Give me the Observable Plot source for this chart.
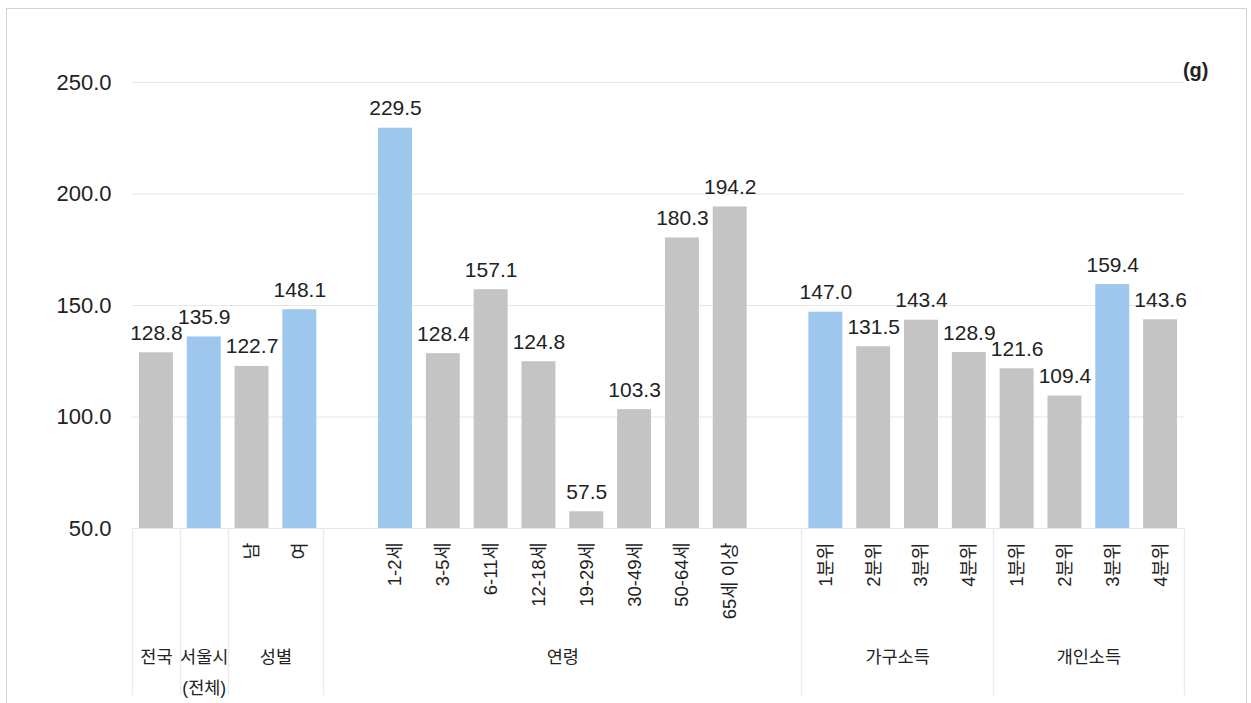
<!DOCTYPE html>
<html lang="ko">
<head>
<meta charset="utf-8">
<script src="https://cdn.jsdelivr.net/npm/d3@7"></script>
<script src="https://cdn.jsdelivr.net/npm/@observablehq/plot@0.6"></script>
<style>
  html, body { margin: 0; padding: 0; background: #fff; }
  #wrap { position: relative; width: 1251px; height: 703px; }
  #border {
    position: absolute; left: 6px; top: 8px; width: 1241px; height: 700px;
    border: 1.5px solid #d4d4d4; box-sizing: border-box; pointer-events: none;
  }
  #chart { position: absolute; left: 0; top: 0; }
</style>
</head>
<body>
<div id="wrap">
  <div id="chart"></div>
  <div id="border"></div>
</div>
<script>
// 1일 평균 섭취량 (g), 구분별
const groups = ["전국", "서울시", "성별", "성별",
  "연령", "연령", "연령", "연령", "연령", "연령", "연령", "연령",
  "가구소득", "가구소득", "가구소득", "가구소득",
  "개인소득", "개인소득", "개인소득", "개인소득"];
const categories = ["", "", "남", "여",
  "1-2세", "3-5세", "6-11세", "12-18세", "19-29세", "30-49세", "50-64세", "65세 이상",
  "1분위", "2분위", "3분위", "4분위",
  "1분위", "2분위", "3분위", "4분위"];
const values = [128.8, 135.9, 122.7, 148.1,
  229.5, 128.4, 157.1, 124.8, 57.5, 103.3, 180.3, 194.2,
  147.0, 131.5, 143.4, 128.9,
  121.6, 109.4, 159.4, 143.6];
const highlighted = [false, true, false, true,
  true, false, false, false, false, false, false, false,
  true, false, false, false,
  false, false, true, false];
const groupLabels = [
  {group: "전국", text: "전국"},
  {group: "서울시", text: "서울시\n(전체)"},
  {group: "성별", text: "성별"},
  {group: "연령", text: "연령"},
  {group: "가구소득", text: "가구소득"},
  {group: "개인소득", text: "개인소득"}
];
const yTicks = [50, 100, 150, 200, 250];
const baseline = 50;
const unit = "(g)";

// One row per bar, with a unique band key
const rows = values.map((v, i) => ({
  key: groups[i] + "|" + categories[i] + "|" + i,
  group: groups[i],
  label: categories[i],
  value: v,
  hi: highlighted[i]
}));

// Band domain with an empty slot after 성별 and after 연령
const domain = [];
rows.forEach((r, i) => {
  domain.push(r.key);
  if (i < rows.length - 1 && r.group !== rows[i + 1].group &&
      (r.group === "성별" || r.group === "연령")) domain.push("__gap" + i);
});
const labelOf = new Map(rows.map(r => [r.key, r.label]));

const W = 1251, H = 703;
const mL = 132, mR = 67, mT = 82, mB = 175;
const step = (W - mL - mR) / domain.length;

// Each group label sits at its first bar, shifted to the group's centre
const groupRows = groupLabels.map(g => {
  const members = rows.filter(r => r.group === g.group);
  const first = domain.indexOf(members[0].key);
  const last = domain.indexOf(members[members.length - 1].key);
  return {key: members[0].key, text: g.text, shift: (last - first) * step / 2};
});

// Divider lines at both edges of every group except the age block
const sepSet = new Set();
for (const g of new Set(groups)) {
  if (g === "연령") continue;
  const members = rows.filter(r => r.group === g);
  sepSet.add(domain.indexOf(members[0].key));
  sepSet.add(domain.indexOf(members[members.length - 1].key) + 1);
}
const sepIdx = [...sepSet].sort((a, b) => a - b);

const font = "'Liberation Sans', 'Noto Sans CJK KR', sans-serif";

const separators = (index, scales, values, dims) => {
  const x = scales.x;
  const y = scales.y;
  const st = x.step ? x.step() : step;
  const bw = x.bandwidth ? x.bandwidth() : st * 0.71;
  const left = x(domain[0]) - (st - bw) / 2;
  const g = d3.create("svg:g");
  for (const i of sepIdx) {
    const px = Math.round(left + i * st) + 0.5;
    g.append("line")
      .attr("x1", px).attr("x2", px)
      .attr("y1", y(baseline)).attr("y2", dims.height - 8)
      .attr("stroke", "#ececec").attr("stroke-width", 1.5);
  }
  return g.node();
};

const labelFmt = d3.format(".1f");

const chart = Plot.plot({
  width: W,
  height: H,
  marginLeft: mL,
  marginRight: mR,
  marginTop: mT,
  marginBottom: mB,
  style: {fontFamily: font, background: "transparent", color: "#222"},
  x: {domain, paddingInner: 0.29, paddingOuter: 0.145, round: false},
  y: {domain: [baseline, 250]},
  marks: [
    Plot.ruleY(yTicks, {stroke: "#e6e6e6", strokeWidth: 1.2}),
    Plot.axisY({
      ticks: yTicks, tickSize: 0, tickPadding: 21, tickFormat: labelFmt,
      fontSize: 22, fill: "#222", label: null
    }),
    Plot.axisX({
      tickSize: 0, tickPadding: 14, tickRotate: -90, fontSize: 18.5, fill: "#222",
      tickFormat: k => labelOf.get(k) || "", label: null
    }),
    separators,
    Plot.barY(rows, {
      x: "key", y1: baseline, y2: "value",
      fill: d => d.hi ? "#9dc7ed" : "#c4c4c4"
    }),
    Plot.text(rows, {
      x: "key", y: "value", text: d => labelFmt(d.value),
      lineAnchor: "bottom", dy: -13, fontSize: 21, fill: "#222"
    }),
    ...groupRows.map(g => Plot.text([g], {
      x: "key", text: "text", dx: g.shift, frameAnchor: "bottom",
      lineAnchor: "top", dy: 112, lineHeight: 1.8, fontSize: 17.5, fill: "#222"
    })),
    Plot.text([unit], {
      frameAnchor: "top-right", text: d => d, textAnchor: "end",
      dx: 24, dy: -20, fontSize: 20, fontWeight: "bold", fill: "#222"
    })
  ]
});

document.getElementById("chart").appendChild(chart);
</script>
</body>
</html>
